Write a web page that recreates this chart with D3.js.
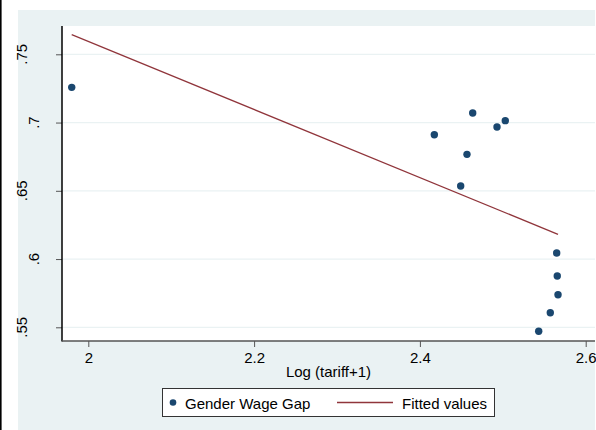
<!DOCTYPE html>
<html>
<head>
<meta charset="utf-8">
<script src="https://cdn.jsdelivr.net/npm/d3@7"></script>
<style>
	body { margin: 0; background: #ffffff; }
	svg { display: block; font-family: "Liberation Sans", Arial, sans-serif; }
</style>
</head>
<body>
<div id="chart"></div>
<script>
/**
 * Data.
 */
var tariffLog = [1.980, 2.4174, 2.4492, 2.4568, 2.4637, 2.4930, 2.5030, 2.5433, 2.5573, 2.5650, 2.5657, 2.5666];
var wageGap = [0.7258, 0.6911, 0.6535, 0.6767, 0.7070, 0.6967, 0.7014, 0.5471, 0.5607, 0.6044, 0.5876, 0.5739];
var fittedX = [1.980, 2.5666];
var fittedY = [0.7644, 0.6181];
var xTicks = [2, 2.2, 2.4, 2.6];
var xTickLabels = ["2", "2.2", "2.4", "2.6"];
var yTicks = [0.55, 0.6, 0.65, 0.7, 0.75];
var yTickLabels = [".55", ".6", ".65", ".7", ".75"];
var xTitle = "Log (tariff+1)";
var legendLabels = ["Gender Wage Gap", "Fitted values"];

{
	var width = 596,
		height = 430;

	var plot = {
		left: 62,
		right: 595,
		top: 26,
		bottom: 341
	};

	var navy = "#1a476f",
		maroon = "#90353b",
		bluishGray = "#eaf2f3";

	var x = d3.scaleLinear()
		.domain([2, 2.6])
		.range([88.3, 585.7]);

	var y = d3.scaleLinear()
		.domain([0.55, 0.75])
		.range([327.3, 54.3]);

	var svg = d3.select("#chart")
		.append("svg")
		.attr("width", width)
		.attr("height", height);

	// graph region
	svg.append("rect")
		.attr("x", 0)
		.attr("y", 0)
		.attr("width", 1.6)
		.attr("height", height)
		.style("fill", "#000");

	svg.append("rect")
		.attr("x", 18)
		.attr("y", 10)
		.attr("width", plot.right - 18)
		.attr("height", height - 10)
		.style("fill", bluishGray);

	// plot region
	svg.append("rect")
		.attr("x", plot.left)
		.attr("y", plot.top)
		.attr("width", plot.right - plot.left)
		.attr("height", plot.bottom - plot.top)
		.style("fill", "#fff");

	// grid lines
	svg.append("g")
		.selectAll("line")
		.data(yTicks)
		.enter().append("line")
		.attr("x1", plot.left)
		.attr("x2", plot.right)
		.attr("y1", d => y(d))
		.attr("y2", d => y(d))
		.style("stroke", bluishGray)
		.style("stroke-width", 1.2);

	// y axis
	var yAxis = svg.append("g")
		.attr("transform", "translate(" + plot.left + ",0)")
		.call(d3.axisLeft(y).tickValues(yTicks).tickSize(6).tickFormat(""));
	yAxis.select(".domain").remove();
	yAxis.selectAll(".tick line").style("stroke", "#555").style("stroke-width", 1);

	svg.append("line")
		.attr("x1", plot.left)
		.attr("x2", plot.left)
		.attr("y1", plot.top)
		.attr("y2", plot.bottom + 0.5)
		.style("stroke", "#000")
		.style("stroke-width", 1.5);

	svg.append("g")
		.selectAll("text")
		.data(yTicks)
		.enter().append("text")
		.attr("transform", function (d, i) {
			// longer labels sit further left, as in the source
			var tx = 38.5 - (yTickLabels[i].length - 2) * 12;
			return "translate(" + tx + "," + y(d) + ") rotate(-90)";
		})
		.attr("text-anchor", "middle")
		.style("font-size", "15px")
		.style("fill", "#000")
		.text((d, i) => yTickLabels[i]);

	// x axis
	var xAxis = svg.append("g")
		.attr("transform", "translate(0," + plot.bottom + ")")
		.call(d3.axisBottom(x).tickValues(xTicks).tickSize(6).tickFormat((d, i) => xTickLabels[i]));
	xAxis.select(".domain").remove();
	xAxis.selectAll(".tick line").style("stroke", "#555").style("stroke-width", 1);
	xAxis.selectAll(".tick text")
		.attr("y", 22)
		.attr("dy", 0)
		.style("font-size", "15px")
		.style("font-family", "'Liberation Sans', Arial, sans-serif")
		.style("fill", "#000");

	svg.append("line")
		.attr("x1", plot.left)
		.attr("x2", plot.right)
		.attr("y1", plot.bottom)
		.attr("y2", plot.bottom)
		.style("stroke", "#555")
		.style("stroke-width", 1.5);

	svg.append("text")
		.attr("x", (plot.left + plot.right) / 2)
		.attr("y", 377)
		.attr("text-anchor", "middle")
		.style("font-size", "15px")
		.text(xTitle);

	// fitted line
	var line = d3.line()
		.x(d => x(d[0]))
		.y(d => y(d[1]));

	svg.append("path")
		.datum(fittedX.map((d, i) => [d, fittedY[i]]))
		.attr("d", line)
		.style("fill", "none")
		.style("stroke", maroon)
		.style("stroke-width", 1.3);

	// scatter
	svg.append("g")
		.selectAll("circle")
		.data(tariffLog.map((d, i) => [d, wageGap[i]]))
		.enter().append("circle")
		.attr("cx", d => x(d[0]))
		.attr("cy", d => y(d[1]))
		.attr("r", 3.7)
		.style("fill", navy);

	// legend
	var legend = svg.append("g");

	legend.append("rect")
		.attr("x", 162.5)
		.attr("y", 388.5)
		.attr("width", 332)
		.attr("height", 28)
		.style("fill", "#fff")
		.style("stroke", "#333")
		.style("stroke-width", 1);

	legend.append("circle")
		.attr("cx", 173)
		.attr("cy", 402.5)
		.attr("r", 3.3)
		.style("fill", navy);

	legend.append("text")
		.attr("x", 185)
		.attr("y", 408.5)
		.style("font-size", "15px")
		.text(legendLabels[0]);

	legend.append("line")
		.attr("x1", 337)
		.attr("x2", 393)
		.attr("y1", 402.5)
		.attr("y2", 402.5)
		.style("stroke", maroon)
		.style("stroke-width", 1.3);

	legend.append("text")
		.attr("x", 402)
		.attr("y", 408.5)
		.style("font-size", "15px")
		.text(legendLabels[1]);
}
</script>
</body>
</html>
